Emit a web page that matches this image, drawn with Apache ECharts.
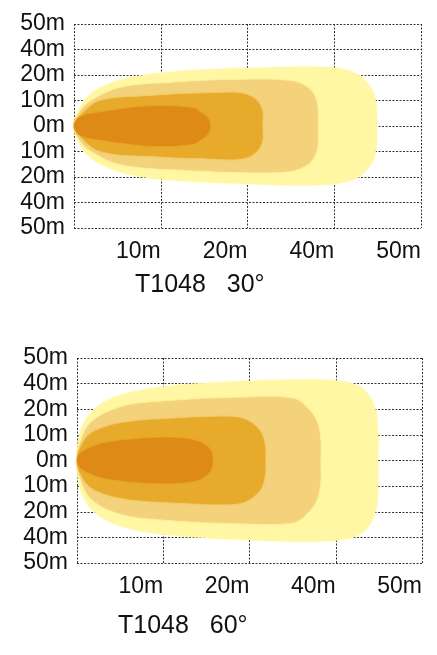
<!DOCTYPE html>
<html>
<head>
<meta charset="utf-8">
<script src="https://cdn.jsdelivr.net/npm/echarts@6/dist/echarts.min.js"></script>
<style>
  html, body { margin: 0; background: #fff; }
  #beamChart { width: 437px; height: 655px; }
</style>
</head>
<body>
<div id="beamChart"></div>
<script>
// tick labels (grid cells are evenly spaced, labels are not)
var yLabels = ['50m', '40m', '20m', '10m', '0m', '10m', '20m', '40m', '50m'];
var xLabels = ['', '10m', '20m', '40m', '50m'];
var titles = ['T1048\u00a0\u00a0\u00a030°', 'T1048\u00a0\u00a0\u00a060°'];

// zone colours, outer -> inner
var zoneColors = ['#fff7a3', '#f3d27b', '#e8aa2a', '#de8a16'];

// upper half outline of each zone, in grid cells [x, y]; lower half is mirrored
var spot30Outer = [[0, 0], [0.02, 0.4], [0.18, 1.22], [0.53, 1.8], [1.11, 2.12], [2.03, 2.27], [2.84, 2.31], [3.24, 2.08], [3.44, 1.41], [3.49, 0.63], [3.49, 0]];
var spot30Mid = [[0, 0], [0.07, 0.55], [0.18, 0.94], [0.53, 1.49], [1.11, 1.69], [1.91, 1.8], [2.49, 1.76], [2.7, 1.49], [2.79, 1.02], [2.81, 0.43], [2.81, 0]];
var spot30Core = [[0, 0], [0.07, 0.39], [0.3, 0.98], [0.91, 1.18], [1.68, 1.29], [1.97, 1.25], [2.11, 0.98], [2.17, 0.55], [2.17, 0]];
var spot30Hot = [[0, 0], [0.07, 0.35], [0.33, 0.55], [0.91, 0.78], [1.37, 0.71], [1.45, 0.55], [1.54, 0.31], [1.57, 0]];

var spot60Outer = [[0, 0], [0.02, 0.9], [0.12, 1.7], [0.3, 2.25], [0.6, 2.65], [1.1, 2.92], [2.0, 3.1], [2.9, 3.14], [3.27, 2.9], [3.44, 2.2], [3.49, 1.2], [3.49, 0]];
var spot60Mid = [[0, 0], [0.03, 0.6], [0.17, 1.5], [0.52, 2.09], [1.0, 2.3], [1.8, 2.44], [2.5, 2.42], [2.67, 2.05], [2.78, 1.5], [2.82, 0.8], [2.82, 0]];
var spot60Core = [[0, 0], [0.04, 0.5], [0.17, 1.07], [0.52, 1.46], [1.2, 1.65], [1.8, 1.7], [1.98, 1.55], [2.13, 1.1], [2.18, 0.5], [2.18, 0]];
var spot60Hot = [[0, 0], [0.06, 0.33], [0.32, 0.68], [0.9, 0.88], [1.25, 0.85], [1.45, 0.68], [1.55, 0.38], [1.57, 0]];

var charts = [
  [spot30Outer, spot30Mid, spot30Core, spot30Hot],
  [spot60Outer, spot60Mid, spot60Core, spot60Hot]
];

var labelFont = {fontFamily: 'Liberation Sans, Arial, sans-serif', fontSize: 23, color: '#111'};
var dotted = {color: '#333', width: 1, type: [2, 1.5]};

// close the outline: upper half left->right, then mirrored lower half back
function closeShape (pts) {
  var lower = pts.slice(1, -1).reverse().map(function (p) {
    return [p[0], -p[1]];
  });
  return pts.concat(lower);
}

function makeZone (pts, color, idx, gi) {
  var shape = closeShape(pts);
  return {
    type: 'custom',
    xAxisIndex: gi,
    yAxisIndex: gi,
    silent: true,
    z: 10 + idx,
    data: [0],
    renderItem: function (params, api) {
      var points = shape.map(function (p) {
        return api.coord(p);
      });
      return {
        type: 'polygon',
        shape: {points: points, smooth: 0.35},
        style: {
          fill: color,
          shadowBlur: 2,
          shadowColor: color
        }
      };
    }
  };
}

var grids = [
  {left: 74, top: 24, width: 347, height: 204},
  {left: 77, top: 358, width: 345, height: 205}
];

var xAxes = [];
var yAxes = [];
var series = [];
grids.forEach(function (g, gi) {
  xAxes.push({
    type: 'value', gridIndex: gi, min: 0, max: 4, interval: 1,
    axisLine: {show: false}, axisTick: {show: false},
    splitLine: {show: true, lineStyle: dotted},
    axisLabel: Object.assign({
      margin: 12,
      align: 'right',
      formatter: function (v) { return xLabels[v]; }
    }, labelFont)
  });
  yAxes.push({
    type: 'value', gridIndex: gi, min: -4, max: 4, interval: 1,
    axisLine: {show: false}, axisTick: {show: false},
    splitLine: {show: true, lineStyle: dotted},
    axisLabel: Object.assign({
      margin: 9,
      formatter: function (v) { return yLabels[v + 4]; }
    }, labelFont)
  });
  charts[gi].forEach(function (pts, idx) {
    series.push(makeZone(pts, zoneColors[idx], idx, gi));
  });
});

var chart = echarts.init(document.getElementById('beamChart'));
chart.setOption({
  animation: false,
  backgroundColor: '#fff',
  grid: grids,
  xAxis: xAxes,
  yAxis: yAxes,
  series: series,
  graphic: [
    {type: 'text', left: 135, top: 273, style: {text: titles[0], font: '25px Liberation Sans, Arial, sans-serif', fill: '#111'}},
    {type: 'text', left: 118, top: 614, style: {text: titles[1], font: '25px Liberation Sans, Arial, sans-serif', fill: '#111'}}
  ]
});
</script>
</body>
</html>
